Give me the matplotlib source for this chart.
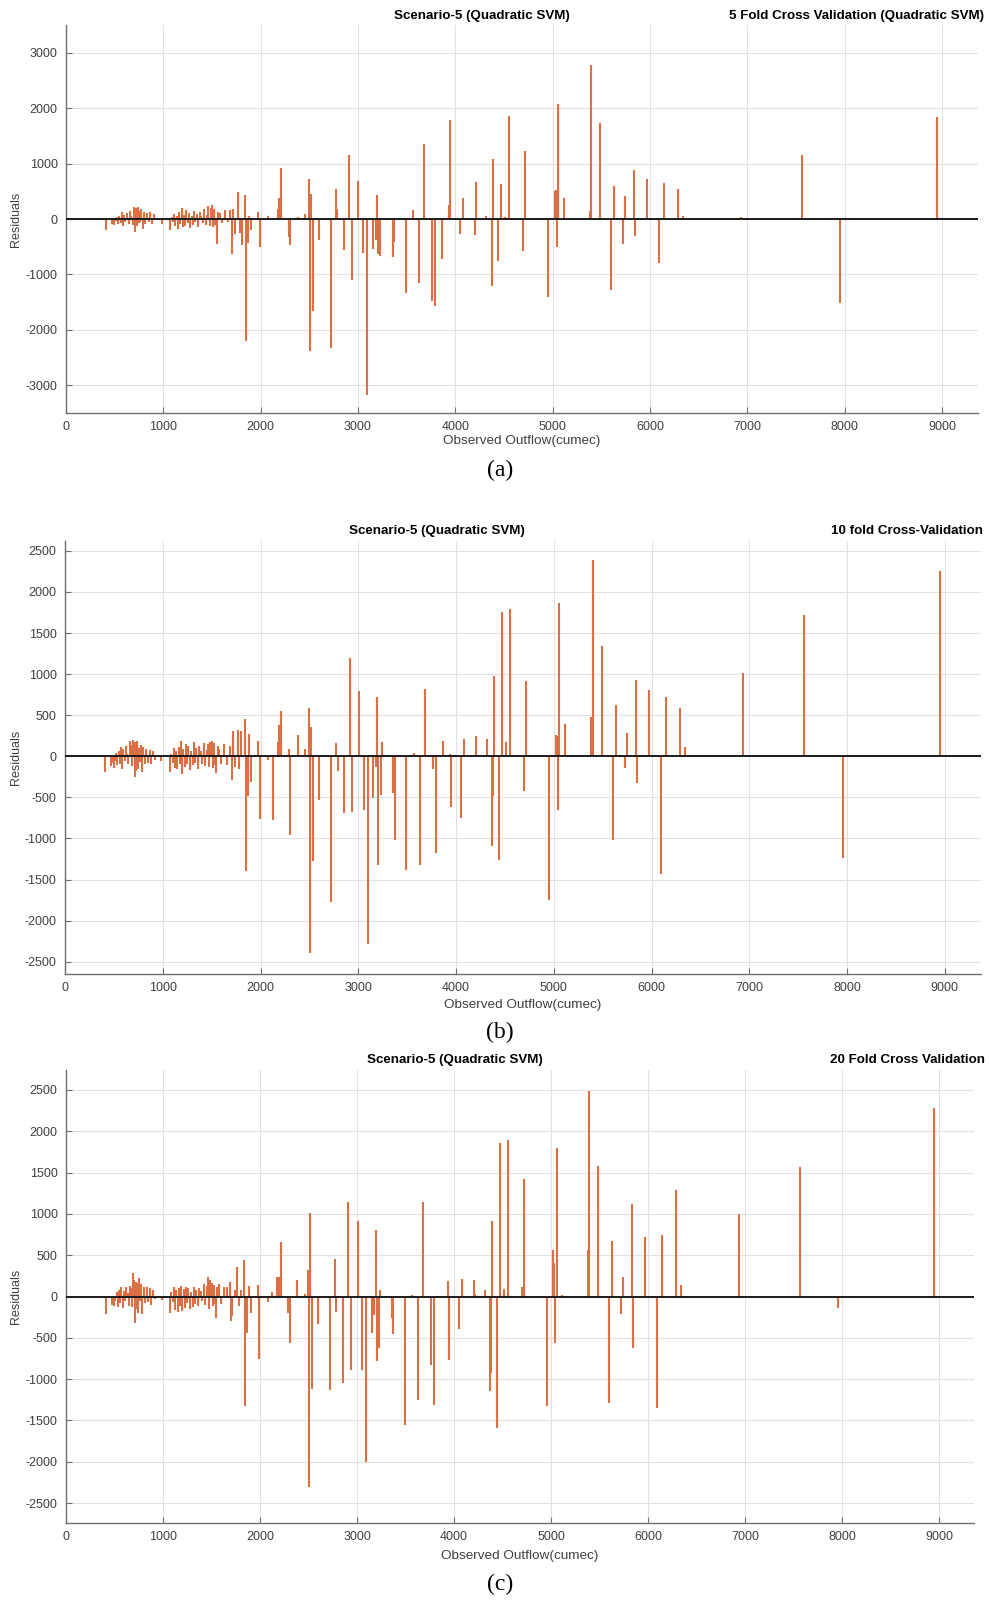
import numpy as np
import matplotlib.pyplot as plt

plt.rcParams['font.family'] = ['Liberation Sans', 'DejaVu Sans']
plt.rcParams['axes.unicode_minus'] = False

# observed outflow (cumec) -- low flows, dense part
outflow_low = [411,
               470, 485, 497, 510, 522, 535, 548, 560, 572, 585,
               598, 610, 622, 635, 648, 660, 672, 685, 695, 705,
               712, 720, 728, 736, 745, 755, 765, 775, 788, 800,
               815, 830, 848, 865, 880, 900, 920,
               985,
               1070, 1085, 1100, 1112, 1125, 1137, 1150, 1162, 1175, 1187,
               1200, 1212, 1225, 1237, 1250, 1262, 1275, 1290, 1305, 1318,
               1330, 1345, 1360, 1375, 1390, 1405, 1420, 1435, 1450, 1462,
               1475, 1488, 1500, 1512, 1525, 1535, 1549, 1560, 1580, 1600,
               1630,
               1660, 1690, 1705, 1715, 1740, 1765, 1785, 1805, 1840, 1850,
               1870, 1885, 1905, 1975, 1990]

res5_low = [-205,
            -85, -60, -110, -40, 30, -95, 60, -70, 120, -130,
            80, -50, 100, 20, -90, 150, 60, -110, 210, 170,
            -235, 190, -120, 217, -80, 150, -60, 180, -180, 120,
            -95, 100, -60, 120, -90, 90, -20,
            -85,
            -205, 40, -60, 90, -120, 60, -180, 130, -90, 200,
            -150, 80, -120, 170, -70, 110, -160, 60, -100, 150,
            -60, 90, -140, 120, 50, -80, 180, -110, 70, 230,
            -120, 200, 250, -150, 180, -100, -446, 130, 100, -80,
            170,
            -60, 170, -627, 187, -265, 488, -253, -464, 440, -2195,
            -434, 50, -193, 127, -506]

res10_low = [-190,
             -120, -80, -140, -60, 40, -110, 70, -90, 110, -150,
             90, -60, 120, 30, -100, 190, 140, -120, 200, 160,
             -250, 170, -180, 190, -150, 100, -70, 140, -190, 110,
             -100, 90, -80, 80, -100, 60, -40,
             -60,
             -190, 30, -80, 100, -140, 70, -160, 110, -100, 180,
             -220, 90, -130, 150, -90, 120, -170, 70, -110, 170,
             -80, 100, -150, 130, 60, -90, 160, -120, 80, 150,
             -130, 170, 190, -140, 160, -110, -200, 120, 90, -100,
             150,
             -110, 130, -284, 304, -130, 324, -150, 308, 458, -1399,
             -487, 276, -312, 182, -758]

res20_low = [-208,
             -100, -70, -120, -50, 50, -130, 80, -80, 110, -140,
             70, -60, 120, 40, -110, 130, 100, -130, 290, 200,
             -320, 180, -150, 160, -200, 220, -60, 150, -210, 110,
             -80, 120, -70, 100, -100, 80, -30,
             -40,
             -200, 50, -70, 110, -160, 80, -190, 100, -120, 130,
             -170, 90, -140, 120, -80, 100, -150, 60, -130, 110,
             -90, 80, -120, 100, 70, -60, 150, -100, 130, 240,
             -150, 200, 160, -120, 140, -90, -260, 110, 150, -90,
             120,
             120, 170, -291, -237, 75, 353, -120, 75, 436, -1330,
             -445, 125, -195, 137, -756]

# observed outflow (cumec) -- higher flows
outflow_high = [2080, 2125, 2175, 2192, 2213, 2290, 2306, 2383, 2460, 2492,
                2506, 2515, 2540, 2600, 2718, 2774, 2788, 2853, 2912, 2940,
                3005, 3056, 3097, 3151, 3180, 3195, 3205, 3230, 3240, 3360,
                3372, 3490, 3570, 3630, 3680, 3762, 3792, 3862, 3935, 3945,
                4050, 4080, 4205, 4215, 4317, 4372, 4380, 4390, 4440, 4470,
                4512, 4553, 4697, 4717, 4954, 5020, 5030, 5045, 5057, 5118,
                5380, 5396, 5488, 5601, 5632, 5726, 5745, 5838, 5848, 5971,
                6095, 6146, 6290, 6341, 6937, 7564, 7955, 8952]

res5_high = [60, 20, 187, 374, 929, -325, -476, 30, 96, 717,
             -2388, 458, -1652, -386, -2328, 537, 181, -567, 1152, -1097,
             681, -615, -3178, -537, -386, 440, -639, -675, 20, -690,
             -416, -1333, 157, -1158, 1357, -1471, -1562, -730, 247, 1785,
             -265, 380, -295, 670, 54, -1200, -845, 1090, -766, 633,
             36, 1863, -585, 1224, -1399, 506, 530, -507, 2074, 374,
             145, 2774, 1737, -1278, 603, -446, 416, 880, -307, 718,
             -796, 645, 537, 48, 36, 1146, -1520, 1845]

res10_high = [-49, -779, 174, 377, 547, 85, -961, 255, 93, 588,
              -2400, 357, -1273, -535, -1772, 162, -178, -689, 1196, -677,
              791, -657, -2279, -503, -130, 722, -1326, -466, 174, -446,
              -1014, -1387, 41, -1318, 823, -158, -1176, 182, 32, -616,
              -746, 207, 243, 20, 215, -1090, -487, 977, -1257, 1756,
              174, 1796, -422, 920, -1752, 255, 243, -657, 1865, 389,
              478, 2392, 1338, -1014, 628, -138, 284, 925, -320, 807,
              -1435, 726, 592, 114, 1014, 1715, -1233, 2255]

res20_high = [-62, 54, 233, 233, 665, -195, -557, 200, 33, 316,
              -2306, 1010, -1122, -332, -1130, 457, -187, -1047, 1147, -889,
              914, -889, -2003, -445, -224, 810, -777, -623, 83, -266,
              -453, -1554, 15, -1255, 1143, -831, -1317, -21, 187, -769,
              -391, 216, 200, 30, 75, -1139, -923, 918, -1596, 1862,
              96, 1891, 116, 1417, -1330, 565, 407, -561, 1800, 20,
              565, 2485, 1583, -1288, 677, -208, 233, 1114, -619, 715,
              -1347, 748, 1293, 145, 1002, 1563, -145, 2277]

outflow = np.array(outflow_low + outflow_high)

W, H = 989, 1600
fig = plt.figure(figsize=(W / 100, H / 100), dpi=100)

bar_color = '#da7043'

panels = [
    dict(res=res5_low + res5_high, ylim=(-3500, 3500), step=1000,
         rtitle='5 Fold Cross Validation (Quadratic SVM)',
         box=(66, 978, 25, 413), ty=16, tx=482, rx=984, xl=441, tagy=470,
         tag='(a)', xmax=9370),
    dict(res=res10_low + res10_high, ylim=(-2650, 2620), step=500,
         rtitle='10 fold Cross-Validation',
         box=(65, 981, 541, 974), ty=531, tx=437, rx=983, xl=1005, tagy=1032,
         tag='(b)', xmax=9370),
    dict(res=res20_low + res20_high, ylim=(-2740, 2740), step=500,
         rtitle='20 Fold Cross Validation',
         box=(66, 974, 1070, 1523), ty=1060, tx=455, rx=985, xl=1556, tagy=1584,
         tag='(c)', xmax=9360),
]

for p in panels:
    l, r, t, b = p['box']
    ax = fig.add_axes([l / W, 1 - b / H, (r - l) / W, (b - t) / H])
    res = np.array(p['res'])
    ax.vlines(outflow, 0, res, color=bar_color, lw=1.5, zorder=3)
    ax.axhline(0, color='#1a1a1a', lw=1.4, zorder=4)

    ax.set_xlim(0, p['xmax'])
    ax.set_ylim(*p['ylim'])
    ax.set_xticks(np.arange(0, 9001, 1000))
    lim = 3000 if p['step'] == 1000 else 2500
    ax.set_yticks(np.arange(-lim, lim + 1, p['step']))

    ax.grid(True, color='#e2e2e2', lw=0.8)
    ax.set_axisbelow(True)
    for s in ['top', 'right']:
        ax.spines[s].set_visible(False)
    for s in ['left', 'bottom']:
        ax.spines[s].set_color('#707070')
        ax.spines[s].set_linewidth(1.0)
    ax.tick_params(direction='in', length=4, color='#707070',
                   labelcolor='#404040', labelsize=9, pad=6)

    # titles
    fig.text(p['tx'] / W, 1 - p['ty'] / H, 'Scenario-5 (Quadratic SVM)',
             ha='center', va='center', fontsize=9.6, fontweight='bold')
    fig.text(p['rx'] / W, 1 - p['ty'] / H, p['rtitle'],
             ha='right', va='center', fontsize=9.6, fontweight='bold')
    # axis labels
    fig.text((l + r) / 2 / W, 1 - p['xl'] / H, 'Observed Outflow(cumec)',
             ha='center', va='center', fontsize=9.7, color='#404040')
    fig.text(16 / W, 1 - (t + b) / 2 / H, 'Residuals', rotation=90,
             ha='center', va='center', fontsize=9, color='#404040')
    fig.text(500 / W, 1 - p['tagy'] / H, p['tag'], ha='center', va='center',
             fontsize=17, family='Liberation Serif')

fig.savefig('out.png', dpi=100)
